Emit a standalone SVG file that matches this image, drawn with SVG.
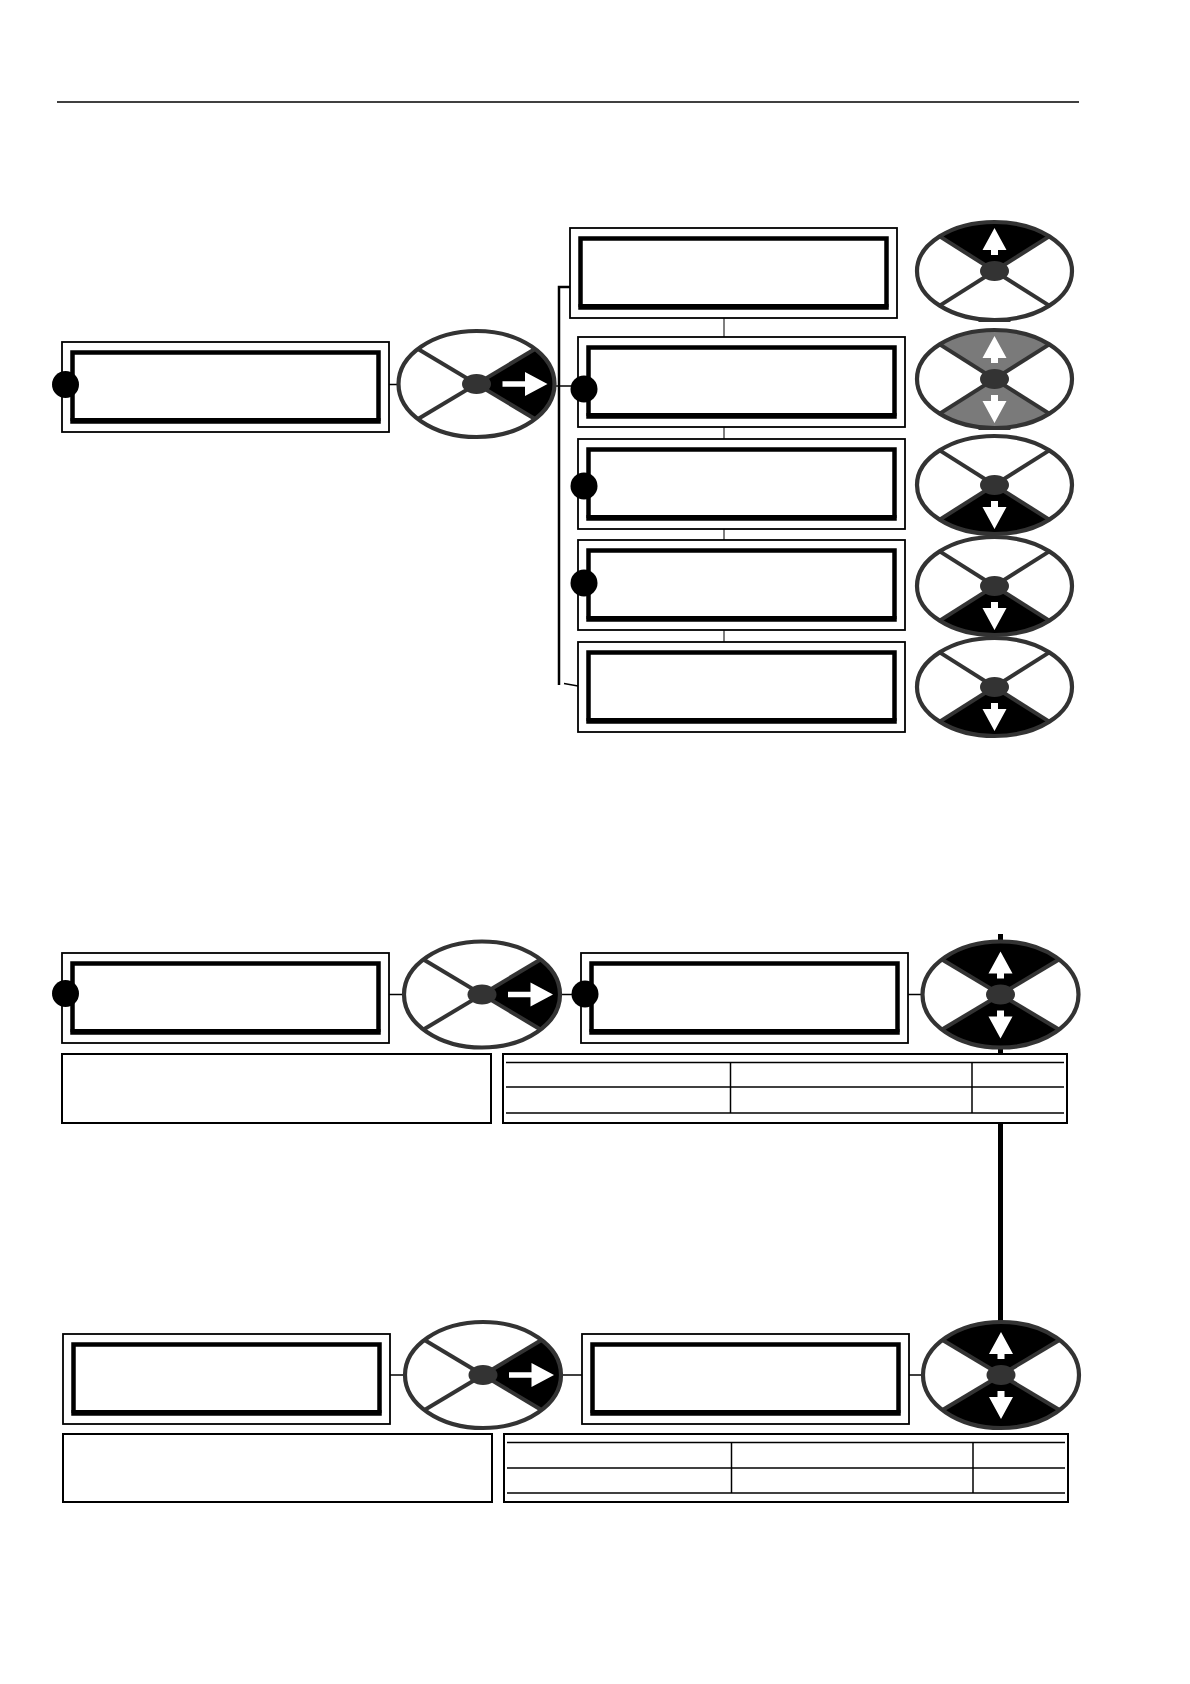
<svg xmlns="http://www.w3.org/2000/svg" xmlns:xlink="http://www.w3.org/1999/xlink" width="1190" height="1684" viewBox="0 0 1190 1684">
<style>
.out{fill:#fff;stroke:#000;stroke-width:1.8}
.inn{fill:none;stroke:#000;stroke-width:4.5}
.bot{stroke:#000;stroke-width:3}
.dot{fill:#000}
.conn{stroke:#000;stroke-width:1.5;fill:none}
.link{stroke:#555;stroke-width:1.5}
.kpbg{fill:#fff}
.kprim{fill:none;stroke:#333;stroke-width:4.2}
.kpx{stroke:#333;stroke-width:4}
.kpc{fill:#333}
.blk{fill:#000}
.gry{fill:#7a7a7a}
.arr{fill:#fff}
.tbl{fill:#fff;stroke:#000;stroke-width:2}
.tl{stroke:#000;stroke-width:1.5}
</style>
<defs>
<g id="lcd">
<rect class="out" x="0" y="0" width="327" height="90"/>
<rect class="inn" x="10.5" y="10.5" width="306" height="69"/>
<line class="bot" x1="8.5" y1="77.5" x2="318.5" y2="77.5"/>
</g>
<g id="kvFrame">
<ellipse class="kprim" cx="0" cy="0" rx="77.5" ry="49"/>
<line class="kpx" x1="-54.8" y1="-34.6" x2="54.8" y2="34.6"/>
<line class="kpx" x1="-54.8" y1="34.6" x2="54.8" y2="-34.6"/>
<ellipse class="kpc" cx="0" cy="0" rx="14.5" ry="10"/>
</g>
<path id="kvTop" d="M0,0 L-54.8,-34.6 A77.5,49 0 0 1 54.8,-34.6 Z"/>
<path id="kvBot" d="M0,0 L-54.8,34.6 A77.5,49 0 0 0 54.8,34.6 Z"/>
<g id="khFrame">
<ellipse class="kprim" cx="0" cy="0" rx="78" ry="53"/>
<line class="kpx" x1="-58.5" y1="-35" x2="58.5" y2="35"/>
<line class="kpx" x1="-58.5" y1="35" x2="58.5" y2="-35"/>
<ellipse class="kpc" cx="0" cy="0" rx="14.5" ry="10"/>
</g>
<path id="khRight" d="M0,0 L58.5,-35 A78,53 0 0 1 58.5,35 Z"/>
<path id="khTop" d="M0,0 L-58.5,-35 A78,53 0 0 1 58.5,-35 Z"/>
<path id="khBot" d="M0,0 L-58.5,35 A78,53 0 0 0 58.5,35 Z"/>
<polygon id="arUp" points="0,-43 12,-21 3.5,-21 3.5,-16 -3.5,-16 -3.5,-21 -12,-21"/>
<polygon id="arDown" points="0,44 12,22 3.5,22 3.5,16 -3.5,16 -3.5,22 -12,22"/>
<polygon id="arRight" points="26,-2.8 48.5,-2.8 48.5,-12 71,0 48.5,12 48.5,2.8 26,2.8"/>
</defs>

<line x1="57" y1="102" x2="1079" y2="102" stroke="#000" stroke-width="1.5"/>

<g id="connectors">
<line class="conn" x1="389" y1="384.5" x2="399" y2="384.5"/>
<line class="conn" x1="553" y1="386" x2="571" y2="386"/>
<polyline class="conn" points="570,287 559,287 559,685" style="stroke-width:2.5"/>
<line class="conn" x1="564" y1="683.5" x2="578" y2="686"/>
<line class="link" x1="724" y1="318" x2="724" y2="337"/>
<line class="link" x1="724" y1="427" x2="724" y2="439"/>
<line class="link" x1="724" y1="529" x2="724" y2="540"/>
<line class="link" x1="724" y1="630" x2="724" y2="642"/>
<line class="conn" x1="389" y1="994.5" x2="405" y2="994.5"/>
<line class="conn" x1="559" y1="994.5" x2="572" y2="994.5"/>
<line class="conn" x1="908" y1="994.5" x2="923" y2="994.5"/>
<line x1="1000.5" y1="934" x2="1000.5" y2="1324" stroke="#000" stroke-width="5"/>
<line class="conn" x1="390" y1="1375" x2="406" y2="1375"/>
<line class="conn" x1="560" y1="1375" x2="582" y2="1375"/>
<line class="conn" x1="909" y1="1375" x2="924" y2="1375"/>
</g>

<g id="lcd-top-left"><use xlink:href="#lcd" x="62" y="342"/><circle class="dot" cx="65.5" cy="384.5" r="13.5"/></g>
<g id="key-top-left" transform="translate(476.5,384)">
<ellipse class="kpbg" rx="78" ry="53"/><use xlink:href="#khRight" class="blk"/><use xlink:href="#khFrame"/><use xlink:href="#arRight" class="arr"/>
</g>
<g id="lcd-a"><use xlink:href="#lcd" x="570" y="228"/></g>
<g id="lcd-b"><use xlink:href="#lcd" x="578" y="337"/><circle class="dot" cx="584" cy="389" r="13.5"/></g>
<g id="lcd-c"><use xlink:href="#lcd" x="578" y="439"/><circle class="dot" cx="584" cy="486" r="13.5"/></g>
<g id="lcd-d"><use xlink:href="#lcd" x="578" y="540"/><circle class="dot" cx="584" cy="583" r="13.5"/></g>
<g id="lcd-e"><use xlink:href="#lcd" x="578" y="642"/></g>

<g id="key-1" transform="translate(994.5,271)">
<ellipse class="kpbg" rx="77.5" ry="49"/><use xlink:href="#kvTop" class="blk"/><use xlink:href="#kvFrame"/><use xlink:href="#arUp" class="arr"/>
<line x1="-16" y1="49.5" x2="16" y2="49.5" stroke="#333" stroke-width="3"/>
</g>
<g id="key-2" transform="translate(994.5,379)">
<ellipse class="kpbg" rx="77.5" ry="49"/><use xlink:href="#kvTop" class="gry"/><use xlink:href="#kvBot" class="gry"/><use xlink:href="#kvFrame"/><use xlink:href="#arUp" class="arr"/><use xlink:href="#arDown" class="arr"/>
<line x1="-16" y1="49.5" x2="16" y2="49.5" stroke="#333" stroke-width="3"/>
</g>
<g id="key-3" transform="translate(994.5,485)">
<ellipse class="kpbg" rx="77.5" ry="49"/><use xlink:href="#kvBot" class="blk"/><use xlink:href="#kvFrame"/><use xlink:href="#arDown" class="arr"/>
</g>
<g id="key-4" transform="translate(994.5,586)">
<ellipse class="kpbg" rx="77.5" ry="49"/><use xlink:href="#kvBot" class="blk"/><use xlink:href="#kvFrame"/><use xlink:href="#arDown" class="arr"/>
</g>
<g id="key-5" transform="translate(994.5,687)">
<ellipse class="kpbg" rx="77.5" ry="49"/><use xlink:href="#kvBot" class="blk"/><use xlink:href="#kvFrame"/><use xlink:href="#arDown" class="arr"/>
</g>

<g id="lcd-mid-left"><use xlink:href="#lcd" x="62" y="953"/><circle class="dot" cx="65.5" cy="993.5" r="13.5"/></g>
<g id="key-mid-left" transform="translate(482,994.5)">
<ellipse class="kpbg" rx="78" ry="53"/><use xlink:href="#khRight" class="blk"/><use xlink:href="#khFrame"/><use xlink:href="#arRight" class="arr"/>
</g>
<g id="lcd-mid-right"><use xlink:href="#lcd" x="581" y="953"/><circle class="dot" cx="585" cy="994" r="13.5"/></g>
<g id="key-mid-right" transform="translate(1000.5,994.5)">
<ellipse class="kpbg" rx="78" ry="53"/><use xlink:href="#khTop" class="blk"/><use xlink:href="#khBot" class="blk"/><use xlink:href="#khFrame"/><use xlink:href="#arUp" class="arr"/><use xlink:href="#arDown" class="arr"/>
</g>
<g id="note-mid"><rect class="tbl" x="62" y="1054" width="429" height="69"/></g>
<g id="table-mid">
<rect class="tbl" x="503" y="1054" width="564" height="69"/>
<line class="tl" x1="506" y1="1062.5" x2="1064" y2="1062.5"/>
<line class="tl" x1="506" y1="1087" x2="1064" y2="1087"/>
<line class="tl" x1="506" y1="1113" x2="1064" y2="1113"/>
<line class="tl" x1="730.5" y1="1062.5" x2="730.5" y2="1113"/>
<line class="tl" x1="972" y1="1062.5" x2="972" y2="1113"/>
</g>

<g id="lcd-bot-left"><use xlink:href="#lcd" x="63" y="1334"/></g>
<g id="key-bot-left" transform="translate(483,1375)">
<ellipse class="kpbg" rx="78" ry="53"/><use xlink:href="#khRight" class="blk"/><use xlink:href="#khFrame"/><use xlink:href="#arRight" class="arr"/>
</g>
<g id="lcd-bot-right"><use xlink:href="#lcd" x="582" y="1334"/></g>
<g id="key-bot-right" transform="translate(1001,1375)">
<ellipse class="kpbg" rx="78" ry="53"/><use xlink:href="#khTop" class="blk"/><use xlink:href="#khBot" class="blk"/><use xlink:href="#khFrame"/><use xlink:href="#arUp" class="arr"/><use xlink:href="#arDown" class="arr"/>
</g>
<g id="note-bot"><rect class="tbl" x="63" y="1434" width="429" height="68"/></g>
<g id="table-bot">
<rect class="tbl" x="504" y="1434" width="564" height="68"/>
<line class="tl" x1="507" y1="1442.5" x2="1065" y2="1442.5"/>
<line class="tl" x1="507" y1="1468" x2="1065" y2="1468"/>
<line class="tl" x1="507" y1="1493" x2="1065" y2="1493"/>
<line class="tl" x1="731.5" y1="1442.5" x2="731.5" y2="1493"/>
<line class="tl" x1="973" y1="1442.5" x2="973" y2="1493"/>
</g>
</svg>
